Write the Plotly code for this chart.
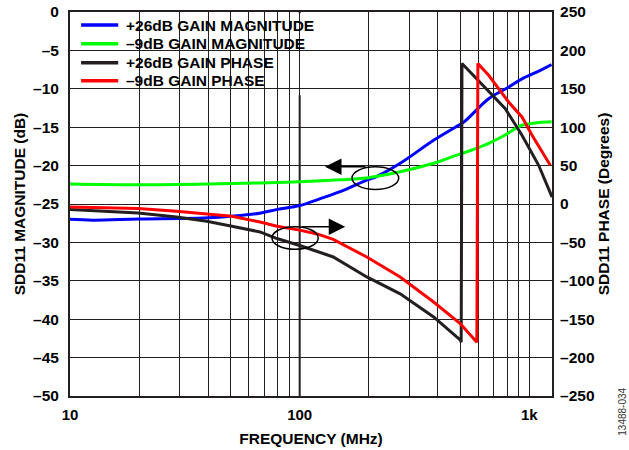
"""SDD11 magnitude and phase vs frequency, dual-axis Plotly chart."""

import plotly.graph_objects as go

# +26dB gain magnitude (dB)
pos26_mag_freq = [10, 12.6, 20, 30, 40, 50, 67, 80, 100, 123, 150, 196, 217, 274, 383, 476, 520, 665, 800, 929, 1100, 1250]
pos26_mag_db = [-27.0, -27.1, -26.95, -26.9, -26.8, -26.6, -26.2, -25.7, -25.2, -24.3, -23.4, -21.9, -21.4, -19.7,
                -16.7, -15.0, -14.3, -11.3, -9.9, -8.7, -7.7, -6.85]

# -9dB gain magnitude (dB)
neg9_mag_freq = [10, 20, 40, 67, 100, 150, 196, 217, 274, 383, 476, 535, 665, 786, 929, 1100, 1250]
neg9_mag_db = [-22.4, -22.5, -22.4, -22.25, -22.1, -21.85, -21.6, -21.4, -20.8, -19.7, -18.7, -18.2, -17.1,
               -16.0, -14.75, -14.4, -14.3]

# +26dB gain phase (degrees)
pos26_ph_freq = [10, 19.8, 29.1, 39.4, 50.7, 67.2, 79.6, 100, 140, 196, 274, 383, 500, 505, 509, 665, 786, 929, 1098, 1256]
pos26_ph_deg = [-7, -11.7, -17, -22.5, -29, -36.4, -45, -54, -69, -95, -117, -147, -177, -180, 183, 146, 124,
                89.5, 50.4, 9]

# -9dB gain phase (degrees)
neg9_ph_freq = [10, 19.8, 29.1, 50.7, 67.2, 79.6, 100, 119, 140, 196, 274, 383, 500, 591, 597, 665, 735, 812,
                929, 1028, 1234]
neg9_ph_deg = [-4, -6, -9.5, -16, -23.4, -29, -34, -39, -46, -69, -95, -127.6, -155.7, -180, 183, 167.6, 150.3,
               132.8, 113.3, 89.5, 50.4]

series_names = ["+26dB GAIN MAGNITUDE", "\u20139dB GAIN MAGNITUDE", "+26dB GAIN PHASE", "\u20139dB GAIN PHASE"]
series_colors = ["#0000ff", "#00ff00", "#231f20", "#ff0000"]

mag_ticks = list(range(0, -55, -5))
phase_ticks = list(range(250, -300, -50))
freq_grid = [10 * k for k in range(1, 10)] + [100 * k for k in range(1, 10)] + [1000]
freq_labels = {10: "10", 100: "100", 1000: "1k"}


def dash(v):
    return str(v).replace("-", "\u2013")


FONT = "Liberation Sans, Arial, sans-serif"
GRID = "#231f20"

fig = go.Figure()
fig.add_trace(go.Scatter(x=pos26_mag_freq, y=pos26_mag_db, name=series_names[0],
                         mode="lines", line=dict(color=series_colors[0], width=3, shape="spline")))
fig.add_trace(go.Scatter(x=neg9_mag_freq, y=neg9_mag_db, name=series_names[1],
                         mode="lines", line=dict(color=series_colors[1], width=3, shape="spline")))
fig.add_trace(go.Scatter(x=pos26_ph_freq, y=pos26_ph_deg, name=series_names[2], yaxis="y2",
                         mode="lines", line=dict(color=series_colors[2], width=3)))
fig.add_trace(go.Scatter(x=neg9_ph_freq, y=neg9_ph_deg, name=series_names[3], yaxis="y2",
                         mode="lines", line=dict(color=series_colors[3], width=3)))

ytick_font = dict(family=FONT, size=15.5, color="black", weight="bold")
xtick_font = dict(family=FONT, size=15, color="black", weight="bold")
title_font = dict(family=FONT, size=15.5, color="black", weight="bold")

fig.update_layout(
    width=629,
    height=450,
    margin=dict(l=70, r=77, t=12, b=54, autoexpand=False),
    paper_bgcolor="white",
    plot_bgcolor="white",
    font=dict(family=FONT, color="black"),
    showlegend=False,
    xaxis=dict(
        type="log", range=[1, 3.0987], automargin=False,
        tickvals=freq_grid, ticktext=[freq_labels.get(v, "") for v in freq_grid],
        showgrid=True, gridcolor=GRID, gridwidth=1,
        showline=True, linecolor=GRID, linewidth=2, mirror=True,
        ticks="", tickfont=xtick_font, ticklabelstandoff=4,
        title=dict(text="FREQUENCY (MHz)", font=title_font, standoff=11),
        zeroline=False,
    ),
    yaxis=dict(
        range=[-50, 0], automargin=False,
        tickvals=mag_ticks, ticktext=[dash(v) for v in mag_ticks],
        showgrid=True, gridcolor=GRID, gridwidth=1,
        showline=True, linecolor=GRID, linewidth=2,
        ticks="", tickfont=ytick_font, ticklabelstandoff=6, zeroline=False,
        title=dict(text="SDD11 MAGNITUDE (dB)", font=title_font, standoff=4),
    ),
    yaxis2=dict(
        overlaying="y", side="right", range=[-250, 250], automargin=False,
        tickvals=phase_ticks, ticktext=[dash(v) for v in phase_ticks],
        showgrid=False, showline=True, linecolor=GRID, linewidth=2,
        ticks="", tickfont=ytick_font, ticklabelstandoff=3, zeroline=False,
        title=dict(text="SDD11 PHASE (Degrees)", font=title_font, standoff=4),
    ),
)

# heavier decade line at 100 MHz
fig.add_shape(type="line", xref="paper", yref="paper", x0=0.4765, x1=0.4765, y0=0, y1=1,
              line=dict(color=GRID, width=2), layer="below")

# legend drawn by hand: white patch over the grid, a short line and a label per series
fig.add_shape(type="rect", xref="paper", yref="paper", x0=0.002, x1=0.51, y0=0.783, y1=0.997,
              fillcolor="white", line=dict(width=0), layer="between")
legend_rows = [0.966, 0.917, 0.868, 0.821]
for name, color, ry in zip(series_names, series_colors, legend_rows):
    fig.add_shape(type="line", xref="paper", yref="paper", x0=0.023, x1=0.1, y0=ry, y1=ry,
                  line=dict(color=color, width=3.5), layer="between")
    fig.add_annotation(xref="paper", yref="paper", x=0.113, y=ry, text=name, showarrow=False,
                       xanchor="left", yanchor="middle",
                       font=dict(family=FONT, size=15.5, color="black", weight="bold"))

# the "which axis" ellipses and arrows
for x0, x1, y0, y1 in [(0.585, 0.682, 0.538, 0.597), (0.419, 0.515, 0.382, 0.441)]:
    fig.add_shape(type="circle", xref="paper", yref="paper", x0=x0, x1=x1, y0=y0, y1=y1,
                  line=dict(color="black", width=1.5))

fig.add_annotation(xref="paper", yref="paper", x=0.529, y=0.597, ax=42, ay=0, text="",
                   showarrow=True, arrowhead=2, arrowsize=2.2, arrowwidth=1.5, arrowcolor="black")
fig.add_annotation(xref="paper", yref="paper", x=0.571, y=0.441, ax=-45, ay=0, text="",
                   showarrow=True, arrowhead=2, arrowsize=2.2, arrowwidth=1.5, arrowcolor="black")

fig.add_annotation(xref="paper", yref="paper", x=1.146, y=-0.04, text="13488-034", showarrow=False,
                   textangle=-90, xanchor="center", yanchor="middle",
                   font=dict(family=FONT, size=10, color="#333333"))

# drop the page's default 8px body margin so the figure sits at the window origin
fig.write_html("out.html", config={"displayModeBar": False},
               post_script="document.body.style.margin='0px';")
